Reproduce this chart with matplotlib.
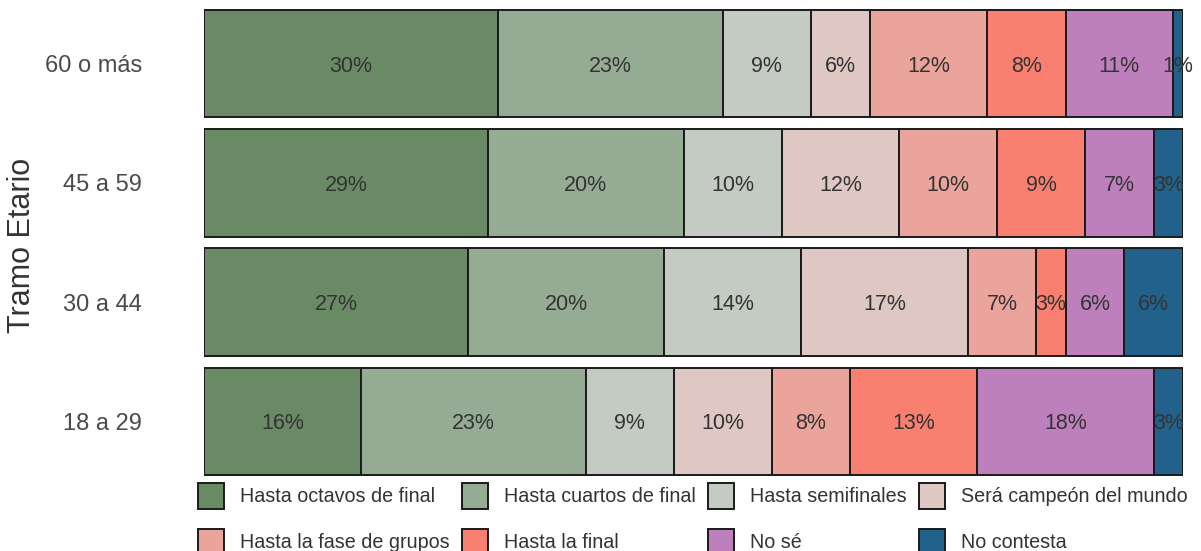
import matplotlib
matplotlib.use("Agg")
import matplotlib.pyplot as plt
from matplotlib.patches import Patch
import numpy as np

plt.rcParams['font.family'] = ['Liberation Sans', 'DejaVu Sans']

age_groups = ["60 o más", "45 a 59", "30 a 44", "18 a 29"]
series_names = ["Hasta octavos de final", "Hasta cuartos de final", "Hasta semifinales",
                "Será campeón del mundo", "Hasta la fase de grupos", "Hasta la final",
                "No sé", "No contesta"]
colors = ["#6a8a66", "#96ab94", "#c4cbc3", "#dfc7c3", "#eba49c", "#f98070", "#bd80bd", "#21618c"]

# percentages per age group, in series order
v_60 = [30, 23, 9, 6, 12, 8, 11, 1]
v_45 = [29, 20, 10, 12, 10, 9, 7, 3]
v_30 = [27, 20, 14, 17, 7, 3, 6, 6]
v_18 = [16, 23, 9, 10, 8, 13, 18, 3]
values = np.array([v_60, v_45, v_30, v_18], dtype=float)

W, H = 1201, 551
fig = plt.figure(figsize=(W / 100, H / 100), dpi=100)
ax = fig.add_axes([204 / W, 1 - 477 / H, (1183 - 204) / W, (477 - 8) / H])

ypos = np.arange(len(age_groups))[::-1]  # 60 o más on top
left = np.zeros(len(age_groups))
for j, name in enumerate(series_names):
    vals = values[:, j]
    ax.barh(ypos, vals, left=left, height=0.9, color=colors[j], edgecolor="#1a1a1a",
            linewidth=1.4, label=name)
    for yi, l, v in zip(ypos, left, vals):
        ax.text(l + v / 2, yi, f"{int(v)}%", ha="center", va="center_baseline",
                fontsize=15.5, color="#333333")
    left += vals

ax.set_xlim(0, values.sum(axis=1).max())
ax.set_ylim(-0.45 - 0.017, 3.45 + 0.017)
ax.set_yticks(ypos)
ax.set_yticklabels(age_groups, fontsize=17, color="#4a4a4a")
ax.tick_params(axis="y", length=0, pad=44.5)
ax.set_xticks([])
for s in ax.spines.values():
    s.set_visible(False)

fig.text(22 / W, 1 - 245 / H, "Tramo Etario", rotation=90, ha="center", va="center",
         fontsize=22, color="#333333")

handles = [Patch(facecolor=c, edgecolor="#1a1a1a", linewidth=1.4) for c in colors]
order = [0, 4, 1, 5, 2, 6, 3, 7]
leg = fig.legend([handles[i] for i in order], [series_names[i] for i in order],
                 ncol=4, loc="upper left", bbox_to_anchor=(198 / W, 1 - 483 / H),
                 frameon=False, fontsize=14.2, handlelength=1.31, handleheight=1.64,
                 handletextpad=0.8, columnspacing=0.65, labelspacing=1.0,
                 borderpad=0, borderaxespad=0)
for t in leg.get_texts():
    t.set_color("#333333")

fig.savefig("out.png", dpi=100)
